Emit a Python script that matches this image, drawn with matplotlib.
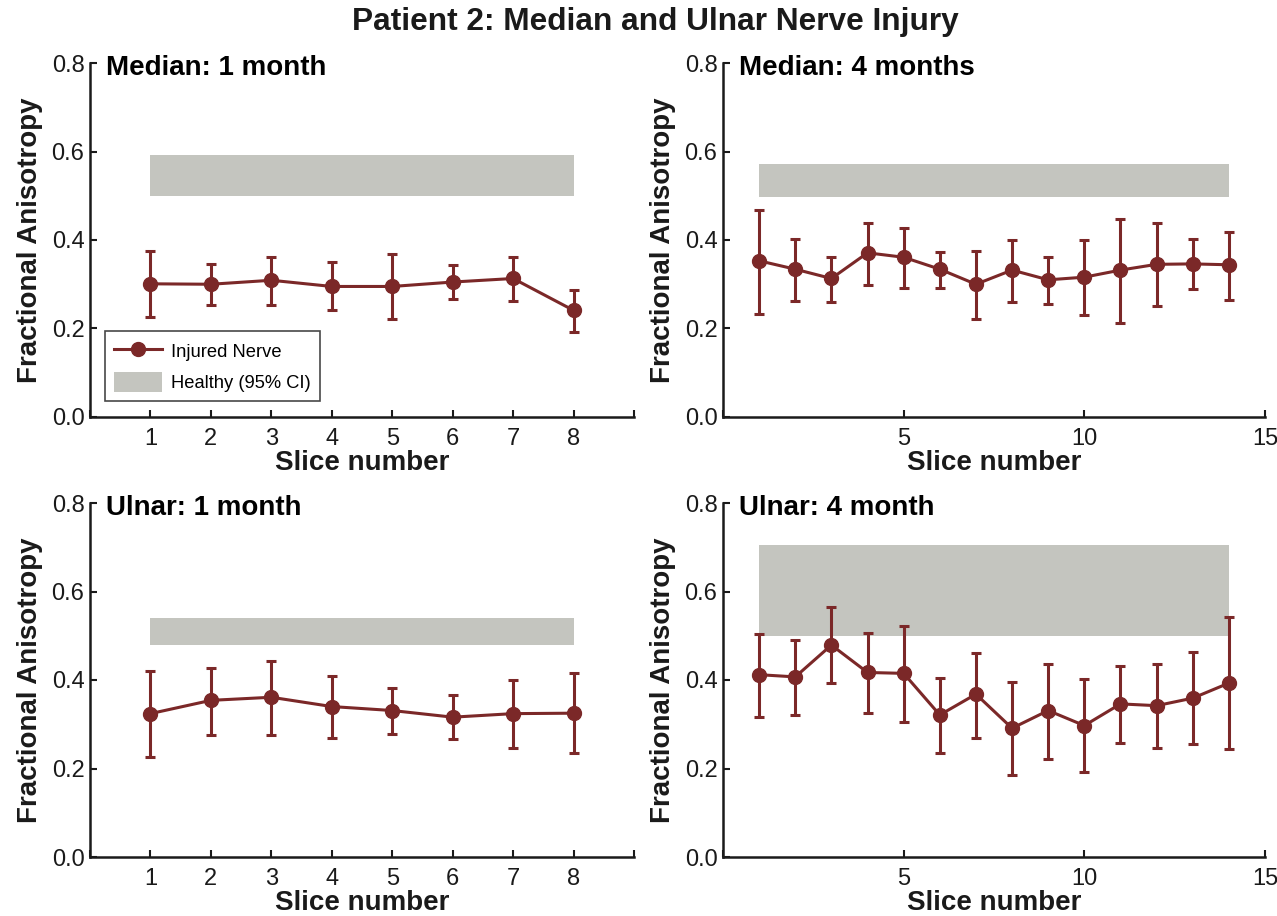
import matplotlib
matplotlib.use("Agg")
import matplotlib.pyplot as plt
import numpy as np
from matplotlib.patches import Patch
from matplotlib.lines import Line2D

plt.rcParams['font.family'] = ['Liberation Sans', 'DejaVu Sans']

# ---------------- data ----------------
slices_1m = [1, 2, 3, 4, 5, 6, 7, 8]
slices_4m = [1, 2, 3, 4, 5, 6, 7, 8, 9, 10, 11, 12, 13, 14]

median_1m_mean = [0.301, 0.300, 0.309, 0.295, 0.295, 0.305, 0.313, 0.241]
median_1m_low  = [0.226, 0.254, 0.254, 0.241, 0.222, 0.267, 0.262, 0.192]
median_1m_high = [0.375, 0.346, 0.362, 0.350, 0.369, 0.343, 0.361, 0.288]
median_1m_ci = [0.500, 0.591]

median_4m_mean = [0.353, 0.334, 0.313, 0.371, 0.361, 0.334, 0.300, 0.332, 0.310, 0.316, 0.332, 0.345, 0.346, 0.344]
median_4m_low  = [0.233, 0.262, 0.261, 0.298, 0.292, 0.291, 0.221, 0.260, 0.255, 0.230, 0.213, 0.250, 0.289, 0.265]
median_4m_high = [0.468, 0.402, 0.361, 0.439, 0.428, 0.373, 0.376, 0.399, 0.362, 0.400, 0.447, 0.438, 0.402, 0.419]
median_4m_ci = [0.497, 0.572]

ulnar_1m_mean = [0.324, 0.354, 0.361, 0.340, 0.331, 0.316, 0.324, 0.325]
ulnar_1m_low  = [0.225, 0.276, 0.276, 0.270, 0.278, 0.267, 0.247, 0.234]
ulnar_1m_high = [0.420, 0.426, 0.442, 0.409, 0.383, 0.365, 0.399, 0.415]
ulnar_1m_ci = [0.480, 0.540]

ulnar_4m_mean = [0.412, 0.407, 0.479, 0.417, 0.415, 0.321, 0.368, 0.291, 0.331, 0.297, 0.346, 0.342, 0.359, 0.393]
ulnar_4m_low  = [0.317, 0.321, 0.393, 0.326, 0.306, 0.234, 0.270, 0.185, 0.222, 0.192, 0.258, 0.247, 0.255, 0.244]
ulnar_4m_high = [0.505, 0.491, 0.565, 0.506, 0.522, 0.404, 0.462, 0.395, 0.436, 0.402, 0.432, 0.437, 0.463, 0.542]
ulnar_4m_ci = [0.499, 0.706]

panel_titles = ["Median: 1 month", "Median: 4 months", "Ulnar: 1 month", "Ulnar: 4 month"]
suptitle = "Patient 2: Median and Ulnar Nerve Injury"
yticks = [0.0, 0.2, 0.4, 0.6, 0.8]
ytick_labels = ["0.0", "0.2", "0.4", "0.6", "0.8"]

# ---------------- style ----------------
LINE_C = "#7B2828"
BAND_C = "#C4C5BF"
TXT_C = "#1a1a1a"

fig = plt.figure(figsize=(12.77, 9.16), dpi=100)

W, H = 1277.0, 916.0
def ax_at(l, r, t, b):
    return fig.add_axes([l / W, 1 - b / H, (r - l) / W, (b - t) / H])

axes = [ax_at(90, 634, 63, 417), ax_at(723, 1265, 63, 417),
        ax_at(90, 634, 503, 857), ax_at(723, 1265, 503, 857)]

lbl_1m = [""] + [str(i) for i in range(1, 9)] + [""]
panels = [
    (slices_1m, median_1m_mean, median_1m_low, median_1m_high, median_1m_ci, 9, list(range(0, 10)), lbl_1m),
    (slices_4m, median_4m_mean, median_4m_low, median_4m_high, median_4m_ci, 15, [0, 5, 10, 15], ["", "5", "10", "15"]),
    (slices_1m, ulnar_1m_mean, ulnar_1m_low, ulnar_1m_high, ulnar_1m_ci, 9, list(range(0, 10)), lbl_1m),
    (slices_4m, ulnar_4m_mean, ulnar_4m_low, ulnar_4m_high, ulnar_4m_ci, 15, [0, 5, 10, 15], ["", "5", "10", "15"]),
]

for i, (ax, (x, m, lo, hi, ci, xmax, xt, xtl)) in enumerate(zip(axes, panels)):
    x = np.array(x); m = np.array(m); lo = np.array(lo); hi = np.array(hi)
    ax.fill_between([x[0], x[-1]], ci[0], ci[1], color=BAND_C, lw=0, zorder=1)
    ax.errorbar(x, m, yerr=[m - lo, hi - m], color=LINE_C, lw=2.2, marker='o',
                markersize=10, capsize=3.5, capthick=2.2, elinewidth=2.2, zorder=3)
    ax.set_xlim(0, xmax)
    ax.set_ylim(0, 0.8)
    ax.set_yticks(yticks)
    ax.set_yticklabels(ytick_labels)
    ax.set_xticks(xt)
    ax.set_xticklabels(xtl)
    for s in ['top', 'right']:
        ax.spines[s].set_visible(False)
    for s in ['left', 'bottom']:
        ax.spines[s].set_linewidth(1.8)
        ax.spines[s].set_color(TXT_C)
    ax.tick_params(direction='in', length=5, width=1.5, labelsize=17, colors=TXT_C)
    ax.tick_params(axis='x', pad=8)
    ax.tick_params(axis='y', pad=4)
    ax.set_xlabel("Slice number", fontsize=20, fontweight='bold', color=TXT_C, labelpad=0)
    ax.set_ylabel("Fractional Anisotropy", fontsize=20, fontweight='bold', color=TXT_C, labelpad=6)
    ax.text(0.03, 0.985, panel_titles[i], transform=ax.transAxes, fontsize=20,
            fontweight='bold', color='black', va='center', ha='left')

# legend in first panel
handles = [Line2D([0], [0], color=LINE_C, lw=2.2, marker='o', markersize=10),
           Patch(facecolor=BAND_C, edgecolor='none')]
leg = axes[0].legend(handles, ["Injured Nerve", "Healthy (95% CI)"],
                     loc='lower left', bbox_to_anchor=(15 / 544, 16 / 354),
                     borderaxespad=0, fontsize=13.2, frameon=True, fancybox=False,
                     edgecolor=TXT_C, handlelength=2.6, handleheight=1.3,
                     handletextpad=0.5, borderpad=0.5, labelspacing=0.6)
leg.get_frame().set_linewidth(1.2)

fig.text(655 / W, 1 - 22 / H, suptitle, fontsize=22.8, fontweight='bold', color=TXT_C,
         ha='center', va='center')

fig.savefig("out.png", dpi=100)
